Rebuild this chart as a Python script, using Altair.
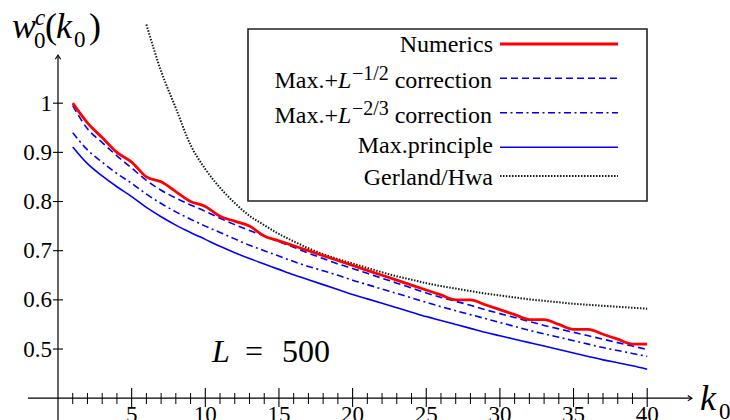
import altair as alt
import pandas as pd

# ---------------- data ----------------
k_values = list(range(1, 41))

numerics = [1.00, 0.96, 0.93, 0.90, 0.88, 0.85, 0.84, 0.82, 0.80, 0.79,
            0.77, 0.76, 0.75, 0.73, 0.72, 0.71, 0.70, 0.69, 0.68, 0.67,
            0.66, 0.65, 0.64, 0.63, 0.62, 0.61, 0.60, 0.60, 0.59, 0.58,
            0.57, 0.56, 0.56, 0.55, 0.54, 0.54, 0.53, 0.52, 0.51, 0.51]

max_corr_half = [0.995, 0.948, 0.920, 0.893, 0.868, 0.843, 0.823, 0.807, 0.793, 0.780,
                 0.766, 0.753, 0.741, 0.730, 0.718, 0.707, 0.695, 0.684, 0.673, 0.664,
                 0.654, 0.644, 0.634, 0.624, 0.614, 0.605, 0.597, 0.589, 0.580, 0.572,
                 0.564, 0.556, 0.548, 0.541, 0.534, 0.527, 0.520, 0.513, 0.506, 0.499]

max_corr_twothirds = [0.940, 0.905, 0.880, 0.857, 0.837, 0.815, 0.796, 0.779, 0.764, 0.750,
                      0.737, 0.724, 0.711, 0.700, 0.689, 0.678, 0.668, 0.659, 0.650, 0.640,
                      0.631, 0.622, 0.613, 0.604, 0.595, 0.586, 0.578, 0.570, 0.562, 0.554,
                      0.546, 0.538, 0.531, 0.524, 0.517, 0.510, 0.503, 0.497, 0.491, 0.485]

max_principle = [0.911, 0.877, 0.852, 0.830, 0.810, 0.788, 0.769, 0.752, 0.737, 0.723,
                 0.709, 0.696, 0.684, 0.673, 0.662, 0.651, 0.641, 0.631, 0.621, 0.611,
                 0.602, 0.593, 0.584, 0.575, 0.566, 0.558, 0.550, 0.542, 0.534, 0.527,
                 0.520, 0.513, 0.506, 0.499, 0.492, 0.485, 0.478, 0.472, 0.466, 0.459]

gh_k = list(range(6, 41))
gerland_hwa = [1.160, 1.065, 0.990, 0.915, 0.866, 0.828, 0.797, 0.771, 0.752, 0.734,
               0.719, 0.705, 0.693, 0.683, 0.674, 0.665, 0.656, 0.648, 0.641, 0.634,
               0.628, 0.623, 0.618, 0.613, 0.609, 0.605, 0.601, 0.598, 0.595, 0.592,
               0.590, 0.588, 0.586, 0.584, 0.582]

x_major_ticks = [5, 10, 15, 20, 25, 30, 35, 40]
x_minor_ticks = [k for k in range(1, 41) if k % 5 != 0]
y_ticks = [0.5, 0.6, 0.7, 0.8, 0.9, 1.0]
y_tick_labels = ["0.5", "0.6", "0.7", "0.8", "0.9", "1"]
x_axis_level = [0.4]   # where the k0 axis crosses
y_axis_level = [0]     # where the w axis crosses

# ---------------- geometry / style ----------------
W, H = 730, 420
FONT = "Liberation Serif, DejaVu Serif, serif"
X0_PX, PX_PER_K = 58.0, 14.73
Y04_PX, PX_PER_W = 398.2, 491.7
XMIN, XMAX = -X0_PX / PX_PER_K, (W - X0_PX) / PX_PER_K
YMIN, YMAX = 0.4 - (H - Y04_PX) / PX_PER_W, 0.4 + Y04_PX / PX_PER_W

xs = alt.Scale(domain=[XMIN, XMAX], nice=False, zero=False)
ys = alt.Scale(domain=[YMIN, YMAX], nice=False, zero=False)
XK = alt.X("k:Q", scale=xs, axis=None)
YW = alt.Y("w:Q", scale=ys, axis=None)

RED, BLUE, DOT = "#ff0000", "#0000ff", "#0f200f"
DASH, DASHDOT, DOTTED = [7, 4], [7, 3.5, 2, 3.5], [1.5, 1.5]

ONE = pd.DataFrame({"a": [1]})
xaxis_df = pd.DataFrame({"w": x_axis_level})
yaxis_df = pd.DataFrame({"k": y_axis_level})


def curve(ks, vs, color, width, dash=None):
    df = pd.DataFrame({"k": ks, "w": vs})
    kw = dict(color=color, strokeWidth=width, interpolate="monotone")
    if dash:
        kw["strokeDash"] = dash
    return alt.Chart(df).mark_line(**kw).encode(x=XK, y=YW)


def label(text, x, y, size, italic=False, align="left"):
    return alt.Chart(ONE).mark_text(
        text=text, font=FONT, fontSize=size,
        fontStyle="italic" if italic else "normal",
        align=align, baseline="alphabetic", color="black",
    ).encode(x=alt.value(x), y=alt.value(y))


def legend_line(y, color, width, dash=None):
    kw = dict(color=color, strokeWidth=width)
    if dash:
        kw["strokeDash"] = dash
    return alt.Chart(ONE).mark_rule(**kw).encode(
        x=alt.value(500), x2=alt.value(618), y=alt.value(y))


layers = []

# axes
layers.append(alt.Chart(xaxis_df).mark_rule(color="black", strokeWidth=1.2).encode(
    x=alt.value(28), x2=alt.value(691), y=YW))
layers.append(alt.Chart(yaxis_df).mark_rule(color="black", strokeWidth=1.2).encode(
    x=XK, y=alt.value(56), y2=alt.value(H)))
layers.append(alt.Chart(xaxis_df).mark_point(
    shape="M-1.6,-1L0,0L-1.6,1", filled=False, stroke="black", strokeWidth=1.1, size=28, opacity=1
).encode(x=alt.value(692), y=YW))
layers.append(alt.Chart(yaxis_df).mark_point(
    shape="M-1,1.6L0,0L1,1.6", filled=False, stroke="black", strokeWidth=1.1, size=28, opacity=1
).encode(x=XK, y=alt.value(55)))

# x ticks
minor_df = pd.DataFrame({"k": x_minor_ticks})
major_df = pd.DataFrame({"k": x_major_ticks})
layers.append(alt.Chart(minor_df).mark_rule(color="black", strokeWidth=1).encode(
    x=XK, y=alt.value(393), y2=alt.value(404)))
layers.append(alt.Chart(major_df).mark_rule(color="black", strokeWidth=1.1).encode(
    x=XK, y=alt.value(388), y2=alt.value(407)))
layers.append(alt.Chart(major_df).mark_text(
    font=FONT, fontSize=23, align="center", baseline="alphabetic", color="black"
).encode(x=XK, y=alt.value(422), text="k:N"))

# y ticks
ytick_df = pd.DataFrame({"w": y_ticks, "lab": y_tick_labels})
layers.append(alt.Chart(ytick_df).mark_rule(color="black", strokeWidth=1.1).encode(
    y=YW, x=alt.value(53), x2=alt.value(63)))
layers.append(alt.Chart(ytick_df).mark_text(
    font=FONT, fontSize=23, align="right", baseline="alphabetic", dy=7.5, color="black"
).encode(y=YW, x=alt.value(52), text="lab:N"))

# curves
layers.append(curve(gh_k, gerland_hwa, DOT, 2.0, DOTTED))
layers.append(curve(k_values, max_principle, BLUE, 1.6))
layers.append(curve(k_values, max_corr_twothirds, BLUE, 1.6, DASHDOT))
layers.append(curve(k_values, max_corr_half, BLUE, 1.6, DASH))
layers.append(curve(k_values, numerics, RED, 2.8))

# legend box
layers.append(alt.Chart(ONE).mark_rect(fill="white", stroke="#222222", strokeWidth=1.6).encode(
    x=alt.value(248), x2=alt.value(647), y=alt.value(29), y2=alt.value(201)))

# legend rows
layers.append(label("Numerics", 493, 51.7, 24, align="right"))
layers.append(legend_line(44, RED, 2.8))

layers.append(label("Max.+", 338, 88.3, 24, align="right"))
layers.append(label("L", 338, 88.3, 24, italic=True))
layers.append(label("\u22121/2", 352, 80, 20))
layers.append(label("correction", 492, 88.3, 24, align="right"))
layers.append(legend_line(78.3, BLUE, 1.6, DASH))

layers.append(label("Max.+", 338, 122.7, 24, align="right"))
layers.append(label("L", 338, 122.7, 24, italic=True))
layers.append(label("\u22122/3", 352, 114.5, 20))
layers.append(label("correction", 492, 122.7, 24, align="right"))
layers.append(legend_line(112.7, BLUE, 1.6, DASHDOT))

layers.append(label("Max.principle", 493, 152.7, 24, align="right"))
layers.append(legend_line(147.3, BLUE, 1.6))

layers.append(label("Gerland/Hwa", 493, 185, 24, align="right"))
layers.append(legend_line(176, DOT, 2.0, DOTTED))

# y-axis title  w_0^c(k_0)
layers.append(label("w", 12, 38, 36, italic=True))
layers.append(label("c", 35, 25, 23, italic=True))
layers.append(label("0", 34, 48, 23))
layers.append(label("(", 45, 38, 36))
layers.append(label("k", 56, 38, 36, italic=True))
layers.append(label("0", 74, 47, 23))
layers.append(label(")", 89, 38, 36))

# x-axis title k_0
layers.append(label("k", 700, 410, 36, italic=True))
layers.append(label("0", 719, 419, 23))

# L = 500
layers.append(label("L", 212, 362, 32, italic=True))
layers.append(label("=", 254, 362, 32, align="center"))
layers.append(label("500", 282, 362, 32))

chart = alt.layer(*layers).properties(
    width=W, height=H, padding=0,
    autosize=alt.AutoSizeParams(type="none"),
).configure(font=FONT).configure_text(font=FONT).configure_view(stroke=None)

chart.save("out.html", embed_options={"renderer": "svg", "actions": False})
